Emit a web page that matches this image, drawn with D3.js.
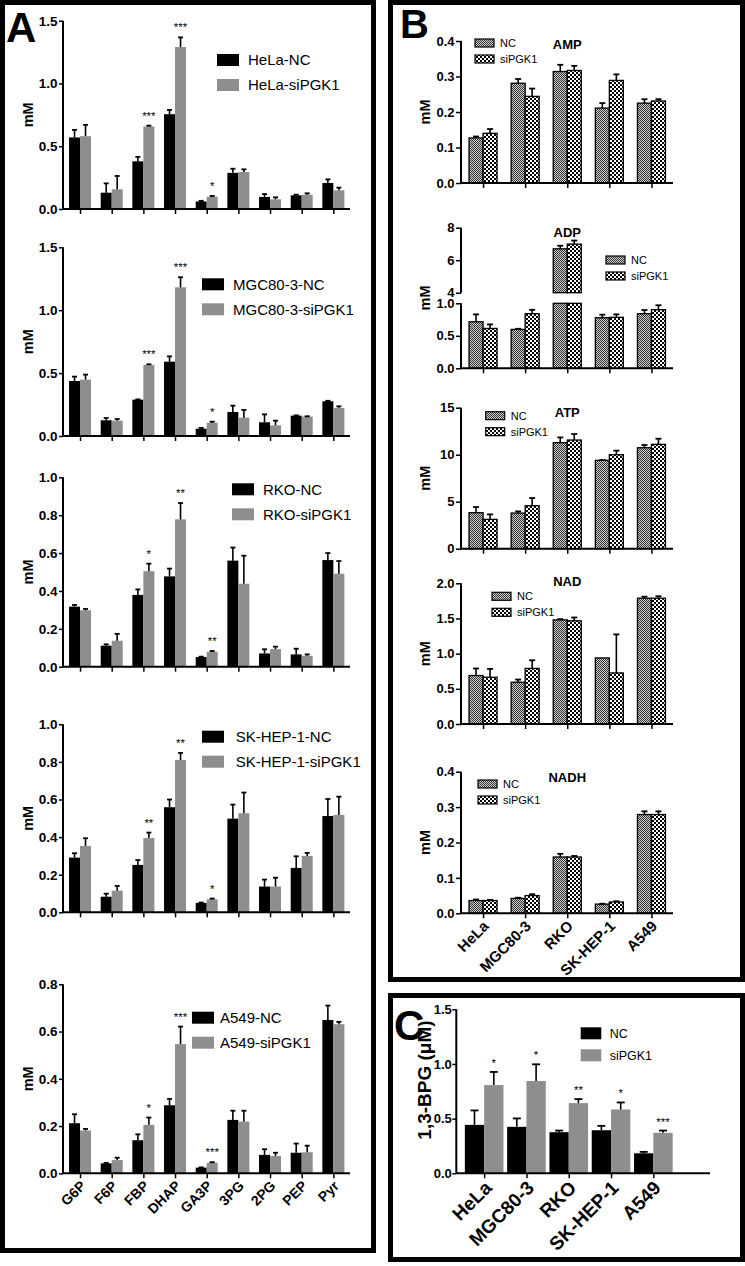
<!DOCTYPE html>
<html><head><meta charset="utf-8">
<script src="https://cdn.jsdelivr.net/npm/d3@7"></script>
<style>
body{margin:0;background:#fff}
svg{display:block}
text{font-family:"Liberation Sans",Arial,Helvetica,sans-serif}
.star{opacity:0.99}
</style>
</head><body>
<svg id="chart" width="745" height="1266"></svg>
<script>
// ---------------- DATA ----------------
const metabolites = ["G6P","F6P","FBP","DHAP","GA3P","3PG","2PG","PEP","Pyr"];
const cellLines = ["HeLa","MGC80-3","RKO","SK-HEP-1","A549"];

// Panel A: glycolytic intermediates (mM), mean and SEM
const helaNC      = [0.57,0.13,0.38,0.755,0.06,0.288,0.096,0.109,0.207];
const helaNCErr   = [0.06,0.074,0.035,0.034,0.005,0.033,0.023,0.005,0.029];
const helaSi      = [0.58,0.157,0.657,1.29,0.098,0.295,0.077,0.114,0.149];
const helaSiErr   = [0.09,0.106,0.007,0.077,0.006,0.021,0.016,0.011,0.021];
const helaSig     = ["","","***","***","*","","","",""];

const mgcNC       = [0.437,0.125,0.289,0.591,0.058,0.191,0.109,0.162,0.276];
const mgcNCErr    = [0.035,0.018,0.002,0.042,0.006,0.05,0.063,0.002,0.004];
const mgcSi       = [0.448,0.122,0.565,1.182,0.106,0.146,0.085,0.154,0.223];
const mgcSiErr    = [0.04,0.013,0.005,0.08,0.008,0.061,0.037,0.003,0.013];
const mgcSig      = ["","","***","***","*","","","",""];

const rkoNC       = [0.317,0.111,0.379,0.477,0.051,0.56,0.07,0.065,0.563];
const rkoNCErr    = [0.009,0.007,0.029,0.041,0.002,0.069,0.022,0.03,0.037];
const rkoSi       = [0.298,0.137,0.504,0.778,0.079,0.438,0.093,0.058,0.491];
const rkoSiErr    = [0.007,0.036,0.04,0.086,0.004,0.148,0.013,0.007,0.067];
const rkoSig      = ["","","*","**","**","","","",""];

const skNC        = [0.291,0.083,0.252,0.559,0.05,0.498,0.137,0.236,0.512];
const skNCErr     = [0.023,0.016,0.026,0.041,0.002,0.075,0.037,0.062,0.091];
const skSi        = [0.353,0.115,0.395,0.81,0.069,0.527,0.137,0.3,0.518];
const skSiErr     = [0.041,0.025,0.029,0.038,0.004,0.11,0.047,0.016,0.097];
const skSig       = ["","","**","**","*","","","",""];

const a549NC      = [0.212,0.042,0.14,0.288,0.024,0.226,0.078,0.087,0.649];
const a549NCErr   = [0.038,0.002,0.025,0.027,0.001,0.039,0.024,0.039,0.061];
const a549Si      = [0.181,0.056,0.205,0.547,0.045,0.219,0.073,0.089,0.631];
const a549SiErr   = [0.007,0.01,0.031,0.074,0.002,0.046,0.014,0.028,0.01];
const a549Sig     = ["","","*","***","***","","","",""];

const yTicksA = [[0,0.5,1.0,1.5],[0,0.5,1.0,1.5],[0,0.2,0.4,0.6,0.8,1.0],[0,0.2,0.4,0.6,0.8,1.0],[0,0.2,0.4,0.6,0.8]];

// Panel B: nucleotides (mM)
const ampNC = [0.127,0.281,0.314,0.211,0.225], ampNCErr = [0.004,0.012,0.019,0.014,0.011];
const ampSi = [0.14,0.244,0.317,0.289,0.231],  ampSiErr = [0.012,0.022,0.013,0.017,0.005];
const adpNC = [0.716,0.598,6.70,0.778,0.84],   adpNCErr = [0.114,0.01,0.19,0.047,0.057];
const adpSi = [0.613,0.84,6.99,0.784,0.902],   adpSiErr = [0.062,0.06,0.22,0.046,0.068];
const atpNC = [3.83,3.79,11.28,9.40,10.74],    atpNCErr = [0.6,0.18,0.56,0.03,0.29];
const atpSi = [3.12,4.57,11.56,10.0,11.1],     atpSiErr = [0.53,0.82,0.64,0.43,0.6];
const nadNC = [0.689,0.594,1.48,0.939,1.788],  nadNCErr = [0.1,0.038,0.01,0,0.022];
const nadSi = [0.665,0.79,1.467,0.726,1.788],  nadSiErr = [0.118,0.116,0.047,0.548,0.028];
const nadhNC = [0.036,0.042,0.159,0.026,0.279], nadhNCErr = [0.003,0.002,0.009,0.001,0.009];
const nadhSi = [0.036,0.05,0.159,0.032,0.279],  nadhSiErr = [0.002,0.004,0.003,0.002,0.009];
const adpTicksLow = [0,0.5,1.0], adpTicksHigh = [4,6,8];

// Panel C: 1,3-BPG (µM)
const bpgNC = [0.443,0.425,0.376,0.394,0.183], bpgNCErr = [0.132,0.077,0.015,0.04,0.013];
const bpgSi = [0.807,0.844,0.642,0.584,0.37],  bpgSiErr = [0.12,0.153,0.037,0.064,0.021];
const bpgSig = ["*","*","**","*","***"];
const bpgTicks = [0,0.5,1.0,1.5];

// ---------------- DRAWING ----------------
const svg = d3.select("#chart");
const defs = svg.append("defs");
const BLACK = "#000", GREY = "#8e8e8e";

// patterns for panel B
const ncPat = defs.append("pattern").attr("id","ncPat").attr("width",2).attr("height",2).attr("patternUnits","userSpaceOnUse");
ncPat.append("rect").attr("width",2).attr("height",2).attr("fill","#cfcfcf");
ncPat.append("rect").attr("width",1).attr("height",1).attr("fill","#333");
ncPat.append("rect").attr("x",1).attr("y",1).attr("width",1).attr("height",1).attr("fill","#333");
const siPat = defs.append("pattern").attr("id","siPat").attr("width",4).attr("height",4).attr("patternUnits","userSpaceOnUse");
siPat.append("rect").attr("width",4).attr("height",4).attr("fill","#fff");
siPat.append("rect").attr("width",2).attr("height",2).attr("fill","#000");
siPat.append("rect").attr("x",2).attr("y",2).attr("width",2).attr("height",2).attr("fill","#000");

// frames
svg.append("rect").attr("x",2.5).attr("y",2.5).attr("width",371).attr("height",1248)
  .attr("fill","none").attr("stroke","#000").attr("stroke-width",5);
svg.append("rect").attr("x",390.5).attr("y",2.5).attr("width",352).attr("height",977)
  .attr("fill","none").attr("stroke","#000").attr("stroke-width",5);
svg.append("rect").attr("x",390.5).attr("y",995.5).attr("width",352).attr("height",264)
  .attr("fill","none").attr("stroke","#000").attr("stroke-width",5);

function styleAxis(sel, fs){
  sel.select(".domain").remove();
  sel.selectAll(".tick line").attr("stroke","#000").attr("stroke-width",1.5);
  sel.selectAll(".tick text").attr("fill","#000").style("font-weight","bold").style("font-size",fs+"px");
}

function errBar(g, cx, yv, ye, capW){
  g.append("line").attr("x1",cx).attr("x2",cx).attr("y1",yv).attr("y2",ye).attr("stroke","#000").attr("stroke-width",1.6);
  g.append("line").attr("x1",cx-capW/2).attr("x2",cx+capW/2).attr("y1",ye).attr("y2",ye).attr("stroke","#000").attr("stroke-width",1.8);
}

function star(g, x, y, s, fs){
  g.append("text").attr("class","star").attr("x",x).attr("y",y).attr("text-anchor","middle")
    .attr("fill","#000").style("font-size",fs+"px").text(s);
}

// ---------- Panel A ----------
const layoutA = [
  {y0:209,   yTop:20.7,  max:1.5, legX:217, legY:54,    txtX:248},
  {y0:436,   yTop:247.3, max:1.5, legX:202, legY:278.3, txtX:233},
  {y0:666.7, yTop:477.3, max:1.0, legX:232, legY:483.3, txtX:263},
  {y0:912.3, yTop:724.3, max:1.0, legX:202, legY:730.7, txtX:235.7},
  {y0:1173.3,yTop:984.3, max:0.8, legX:192, legY:1011.7,txtX:220}
];
const dataA = [
  [helaNC,helaNCErr,helaSi,helaSiErr,helaSig],
  [mgcNC,mgcNCErr,mgcSi,mgcSiErr,mgcSig],
  [rkoNC,rkoNCErr,rkoSi,rkoSiErr,rkoSig],
  [skNC,skNCErr,skSi,skSiErr,skSig],
  [a549NC,a549NCErr,a549Si,a549SiErr,a549Sig]
];
const xA = d3.scalePoint().domain(metabolites).range([64.2,349.2]).padding(0.5);
const axA = 63, barWA = 11;

dataA.forEach((d,i)=>{
  const L = layoutA[i];
  const [nc,ncE,si,siE,sig] = d;
  const y = d3.scaleLinear().domain([0,L.max]).range([L.y0,L.yTop]);
  const g = svg.append("g");
  metabolites.forEach((m,j)=>{
    const cx = xA(m);
    g.append("rect").attr("x",cx-barWA).attr("width",barWA).attr("y",y(nc[j])).attr("height",L.y0-y(nc[j])).attr("fill",BLACK);
    g.append("rect").attr("x",cx).attr("width",barWA).attr("y",y(si[j])).attr("height",L.y0-y(si[j])).attr("fill",GREY);
    if(ncE[j]>0) errBar(g, cx-barWA/2, y(nc[j]), y(nc[j]+ncE[j]), 5);
    if(siE[j]>0) errBar(g, cx+barWA/2, y(si[j]), y(si[j]+siE[j]), 5);
    if(sig[j]) star(g, cx+barWA/2, y(si[j]+siE[j])-6, sig[j], 11.5);
  });
  const ya = g.append("g").attr("transform",`translate(${axA},0)`)
    .call(d3.axisLeft(y).tickValues(yTicksA[i]).tickFormat(d3.format(".1f")).tickSize(4).tickPadding(1.5));
  styleAxis(ya, 13.5);
  g.append("line").attr("x1",axA).attr("x2",axA).attr("y1",L.y0).attr("y2",L.yTop).attr("stroke","#000").attr("stroke-width",2);
  const xa = g.append("g").attr("transform",`translate(0,${L.y0})`)
    .call(d3.axisBottom(xA).tickSize(5).tickFormat(""));
  styleAxis(xa, 14);
  g.append("line").attr("x1",axA).attr("x2",350).attr("y1",L.y0).attr("y2",L.y0).attr("stroke","#000").attr("stroke-width",2);
  if(i===4){
    metabolites.forEach(m=>{
      g.append("text").attr("transform",`translate(${xA(m)+3},${L.y0+10}) rotate(-45)`)
        .attr("text-anchor","end").attr("dy","0.35em").style("font-weight","bold").style("font-size","14px").text(m);
    });
  }
  g.append("text").attr("transform",`translate(28,${(L.y0+L.yTop)/2}) rotate(-90)`)
    .attr("text-anchor","middle").attr("dy","0.35em").style("font-weight","bold").style("font-size","14.5px").text("mM");
  [[BLACK,cellLines[i]+"-NC"],[GREY,cellLines[i]+"-siPGK1"]].forEach((e,k)=>{
    const ly = L.legY + k*25;
    g.append("rect").attr("x",L.legX).attr("y",ly).attr("width",22).attr("height",12).attr("fill",e[0]);
    g.append("text").attr("x",L.txtX).attr("y",ly+6).attr("dy","0.35em").style("font-size","15px").text(e[1]);
  });
});
svg.append("text").attr("x",6).attr("y",42).style("font-weight","bold").style("font-size","42px").text("A");

// ---------- Panel B ----------
const xB = d3.scalePoint().domain(cellLines).range([462,672.5]).padding(0.5);
const axB = 461, barWB = 14;
const layoutB = [
  {name:"AMP", nc:ampNC, ncE:ampNCErr, si:ampSi, siE:ampSiErr, y0:183, yTop:41, max:0.4, ticks:[0,0.1,0.2,0.3,0.4], fmt:".1f", titleY:49, legX:475, legY:39},
  {name:"ADP", nc:adpNC, ncE:adpNCErr, si:adpSi, siE:adpSiErr, broken:true, titleY:237, legX:606, legY:256},
  {name:"ATP", nc:atpNC, ncE:atpNCErr, si:atpSi, siE:atpSiErr, y0:548.7, yTop:407.7, max:15, ticks:[0,5,10,15], fmt:"d", titleY:417, legX:485.7, legY:411.7},
  {name:"NAD", nc:nadNC, ncE:nadNCErr, si:nadSi, siE:nadSiErr, y0:724, yTop:583.3, max:2, ticks:[0,0.5,1.0,1.5,2.0], fmt:".1f", titleY:586, legX:492, legY:592.3},
  {name:"NADH", nc:nadhNC, ncE:nadhNCErr, si:nadhSi, siE:nadhSiErr, y0:913.3, yTop:771.7, max:0.4, ticks:[0,0.1,0.2,0.3,0.4], fmt:".1f", titleY:782, legX:478, legY:780}
];
function barB(g, bx, yTopPx, yBotPx, fill){
  g.append("rect").attr("x",bx).attr("width",barWB).attr("y",yTopPx).attr("height",yBotPx-yTopPx)
    .attr("fill",fill).attr("stroke","#000").attr("stroke-width",1.3);
}
layoutB.forEach((L,i)=>{
  const g = svg.append("g");
  let y0, yTopAll;
  if(L.broken){
    const yLow = d3.scaleLinear().domain([0,1]).range([368.3,303.3]);
    const yHigh = d3.scaleLinear().domain([4,8]).range([292.7,227.7]);
    const yf = v => v<=1 ? yLow(v) : yHigh(v);
    y0 = 368.3; yTopAll = 227.7;
    const a1 = g.append("g").attr("transform",`translate(${axB},0)`)
      .call(d3.axisLeft(yLow).tickValues(adpTicksLow).tickFormat(d3.format(".1f")).tickSize(5).tickPadding(1.5));
    styleAxis(a1, 13);
    const a2 = g.append("g").attr("transform",`translate(${axB},0)`)
      .call(d3.axisLeft(yHigh).tickValues(adpTicksHigh).tickFormat(d3.format("d")).tickSize(5).tickPadding(1.5));
    styleAxis(a2, 13);
    g.append("line").attr("x1",axB).attr("x2",axB).attr("y1",368.3).attr("y2",303.3).attr("stroke","#000").attr("stroke-width",2);
    g.append("line").attr("x1",axB).attr("x2",axB).attr("y1",292.7).attr("y2",227.7).attr("stroke","#000").attr("stroke-width",2);
    cellLines.forEach((c,j)=>{
      const cx = xB(c);
      [[L.nc[j],L.ncE[j],cx-barWB,"url(#ncPat)"],[L.si[j],L.siE[j],cx,"url(#siPat)"]].forEach(b=>{
        const [v,e,bx,fill] = b;
        if(v<=1){
          barB(g, bx, yLow(v), y0, fill);
        } else {
          barB(g, bx, yLow(1), y0, fill);
          barB(g, bx, yHigh(v), yHigh(4), fill);
        }
        if(e>0) errBar(g, bx+barWB/2, yf(v), yf(v+e), 6);
      });
    });
  } else {
    const y = d3.scaleLinear().domain([0,L.max]).range([L.y0,L.yTop]);
    y0 = L.y0; yTopAll = L.yTop;
    const a = g.append("g").attr("transform",`translate(${axB},0)`)
      .call(d3.axisLeft(y).tickValues(L.ticks).tickFormat(d3.format(L.fmt)).tickSize(5).tickPadding(1.5));
    styleAxis(a, 13);
    g.append("line").attr("x1",axB).attr("x2",axB).attr("y1",L.y0).attr("y2",L.yTop).attr("stroke","#000").attr("stroke-width",2);
    cellLines.forEach((c,j)=>{
      const cx = xB(c);
      [[L.nc[j],L.ncE[j],cx-barWB,"url(#ncPat)"],[L.si[j],L.siE[j],cx,"url(#siPat)"]].forEach(b=>{
        const [v,e,bx,fill] = b;
        barB(g, bx, y(v), L.y0, fill);
        if(e>0) errBar(g, bx+barWB/2, y(v), y(v+e), 6);
      });
    });
  }
  const xa = g.append("g").attr("transform",`translate(0,${y0})`).call(d3.axisBottom(xB).tickSize(5).tickFormat(""));
  styleAxis(xa, 14);
  g.append("line").attr("x1",axB).attr("x2",673).attr("y1",y0).attr("y2",y0).attr("stroke","#000").attr("stroke-width",2);
  if(i===4){
    cellLines.forEach(c=>{
      g.append("text").attr("transform",`translate(${xB(c)+3},${y0+10}) rotate(-45)`)
        .attr("text-anchor","end").attr("dy","0.35em").style("font-weight","bold").style("font-size","15px").text(c);
    });
  }
  g.append("text").attr("x",xB(cellLines[2])).attr("y",L.titleY).attr("text-anchor","middle")
    .style("font-weight","bold").style("font-size","13px").text(L.name);
  g.append("text").attr("transform",`translate(424.7,${(y0+yTopAll)/2}) rotate(-90)`)
    .attr("text-anchor","middle").attr("dy","0.35em").style("font-weight","bold").style("font-size","14.5px").text("mM");
  [["url(#ncPat)","NC"],["url(#siPat)","siPGK1"]].forEach((e,k)=>{
    const ly = L.legY + k*16;
    g.append("rect").attr("x",L.legX).attr("y",ly).attr("width",19).attr("height",8)
      .attr("fill",e[0]).attr("stroke","#000").attr("stroke-width",1.2);
    g.append("text").attr("x",L.legX+25).attr("y",ly+4).attr("dy","0.35em").style("font-size","11px").text(e[1]);
  });
});
svg.append("text").attr("x",400).attr("y",38).style("font-weight","bold").style("font-size","40px").text("B");

// ---------- Panel C ----------
(function(){
  const g = svg.append("g");
  const y0 = 1173.3;
  const y = d3.scaleLinear().domain([0,1.5]).range([y0,1009.3]);
  const x = d3.scalePoint().domain(cellLines).range([463,674.5]).padding(0.5);
  const bw = 19.3, ax = 456.3;
  cellLines.forEach((c,j)=>{
    const cx = x(c);
    g.append("rect").attr("x",cx-bw).attr("width",bw).attr("y",y(bpgNC[j])).attr("height",y0-y(bpgNC[j])).attr("fill",BLACK);
    g.append("rect").attr("x",cx).attr("width",bw).attr("y",y(bpgSi[j])).attr("height",y0-y(bpgSi[j])).attr("fill",GREY);
    errBar(g, cx-bw/2, y(bpgNC[j]), y(bpgNC[j]+bpgNCErr[j]), 8);
    errBar(g, cx+bw/2, y(bpgSi[j]), y(bpgSi[j]+bpgSiErr[j]), 8);
    star(g, cx+bw/2, y(bpgSi[j]+bpgSiErr[j])-5, bpgSig[j], 11.5);
  });
  const a = g.append("g").attr("transform",`translate(${ax},0)`)
    .call(d3.axisLeft(y).tickValues(bpgTicks).tickFormat(d3.format(".1f")).tickSize(4).tickPadding(0.5));
  styleAxis(a, 13);
  g.append("line").attr("x1",ax).attr("x2",ax).attr("y1",y0).attr("y2",y(1.5)).attr("stroke","#000").attr("stroke-width",2);
  const xa = g.append("g").attr("transform",`translate(0,${y0})`).call(d3.axisBottom(x).tickSize(5).tickFormat(""));
  styleAxis(xa, 14);
  g.append("line").attr("x1",ax).attr("x2",710).attr("y1",y0).attr("y2",y0).attr("stroke","#000").attr("stroke-width",2);
  cellLines.forEach(c=>{
    g.append("text").attr("transform",`translate(${x(c)+4},${y0+11}) rotate(-45)`)
      .attr("text-anchor","end").attr("dy","0.35em").style("font-weight","bold").style("font-size","19px").text(c);
  });
  g.append("text").attr("transform",`translate(424.5,1080) rotate(-90)`)
    .attr("text-anchor","middle").attr("dy","0.35em").style("font-weight","bold").style("font-size","19px").text("1,3-BPG (μM)");
  [[BLACK,"NC"],[GREY,"siPGK1"]].forEach((e,k)=>{
    const ly = 1027.3 + k*22;
    g.append("rect").attr("x",580.7).attr("y",ly).attr("width",20.6).attr("height",12).attr("fill",e[0]);
    g.append("text").attr("x",609.7).attr("y",ly+6).attr("dy","0.35em").style("font-size","12.5px").text(e[1]);
  });
  svg.append("text").attr("x",394).attr("y",1040).style("font-weight","bold").style("font-size","42px").text("C");
})();
</script>
</body></html>
